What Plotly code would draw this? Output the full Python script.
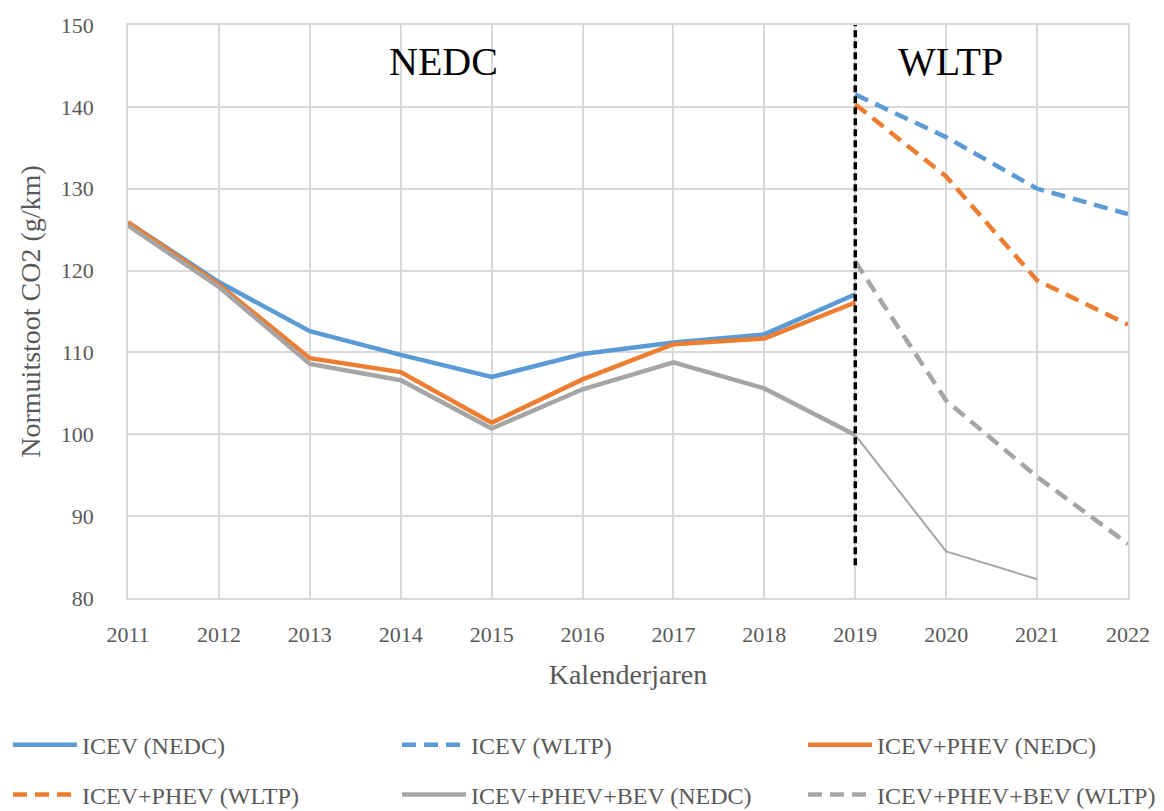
import plotly.graph_objects as go

years_nedc = [2011, 2012, 2013, 2014, 2015, 2016, 2017, 2018, 2019]
years_wltp = [2019, 2020, 2021, 2022]
years_bev_tail = [2019, 2020, 2021]

icev_nedc = [125.9, 118.6, 112.6, 109.7, 107.0, 109.8, 111.2, 112.2, 117.1]
icev_phev_nedc = [125.9, 118.3, 109.3, 107.6, 101.4, 106.7, 111.0, 111.7, 116.1]
icev_phev_bev_nedc = [125.5, 118.0, 108.6, 106.6, 100.7, 105.5, 108.8, 105.6, 99.9]
icev_phev_bev_nedc_tail = [99.9, 85.7, 82.3]

icev_wltp = [141.5, 136.3, 130.0, 126.9]
icev_phev_wltp = [140.3, 131.5, 118.8, 113.4]
icev_phev_bev_wltp = [121.1, 104.1, 94.8, 86.6]

BLUE = "#5b9bd5"
ORANGE = "#ed7d31"
GRAY = "#a5a5a5"
TXT = "#595959"
FONT = "Liberation Serif"
DASH = "14px,8px"

fig = go.Figure()

def add(x, y, name, color, dash="solid", width=4.5, legend="legend", showlegend=True):
    fig.add_trace(go.Scatter(
        x=x, y=y, name=name, mode="lines",
        line=dict(color=color, width=width, dash=dash),
        legend=legend, showlegend=showlegend, hoverinfo="x+y+name",
    ))

add(years_nedc, icev_nedc, "ICEV (NEDC)", BLUE, legend="legend")
add(years_wltp, icev_wltp, "ICEV (WLTP)", BLUE, DASH, legend="legend2")
add(years_nedc, icev_phev_nedc, "ICEV+PHEV (NEDC)", ORANGE, legend="legend3")
add(years_wltp, icev_phev_wltp, "ICEV+PHEV (WLTP)", ORANGE, DASH, legend="legend4")
add(years_nedc, icev_phev_bev_nedc, "ICEV+PHEV+BEV (NEDC)", GRAY, legend="legend5")
add(years_wltp, icev_phev_bev_wltp, "ICEV+PHEV+BEV (WLTP)", GRAY, DASH, legend="legend6")
add(years_bev_tail, icev_phev_bev_nedc_tail, "ICEV+PHEV+BEV (NEDC)", GRAY, width=2, showlegend=False)

fig.add_shape(type="line", x0=2019, x1=2019, y0=84, y1=150, xref="x", yref="y",
              line=dict(color="black", width=3.5, dash="7px,4px"), layer="above")

fig.add_annotation(x=2014.47, y=145.5, text="NEDC", showarrow=False,
                   font=dict(family=FONT, size=40, color="black"))
fig.add_annotation(x=2020.05, y=145.5, text="WLTP", showarrow=False,
                   font=dict(family=FONT, size=40, color="black"))

def leg(x, y):
    return dict(xref="container", yref="container", x=x, y=y,
                xanchor="left", yanchor="middle", orientation="h",
                font=dict(family=FONT, size=24, color=TXT),
                bgcolor="rgba(0,0,0,0)", itemwidth=64, borderwidth=0)

# page body adds an 8px offset; figure is sized so the plot lands where the reference has it
fig.update_layout(
    width=1156, height=803,
    margin=dict(l=120, r=36, t=17, b=213, autoexpand=False),
    plot_bgcolor="white", paper_bgcolor="white",
    font=dict(family=FONT, color=TXT),
    xaxis=dict(range=[2011, 2022], dtick=1, tick0=2011, showgrid=True, automargin=False,
               gridcolor="#d9d9d9", gridwidth=1.5, showline=True, linecolor="#d9d9d9",
               linewidth=1.5, mirror=True, zeroline=False, ticks="",
               tickfont=dict(family=FONT, size=22, color=TXT), ticklabelstandoff=16,
               title=dict(text="Kalenderjaren", font=dict(family=FONT, size=28, color=TXT),
                          standoff=18)),
    yaxis=dict(range=[80, 150], dtick=10, showgrid=True, gridcolor="#d9d9d9", automargin=False,
               gridwidth=1.5, showline=True, linecolor="#d9d9d9", linewidth=1.5,
               mirror=True, zeroline=False, ticks="",
               tickfont=dict(family=FONT, size=22, color=TXT), ticklabelstandoff=28,
               title=dict(text="Normuitstoot CO2 (g/km)",
                          font=dict(family=FONT, size=28, color=TXT), standoff=12)),
    legend=leg(0.0, 0.082),
    legend2=leg(0.3365, 0.082),
    legend3=leg(0.6877, 0.082),
    legend4=leg(0.0, 0.020),
    legend5=leg(0.3365, 0.020),
    legend6=leg(0.6877, 0.020),
)

fig.write_html("out.html")
